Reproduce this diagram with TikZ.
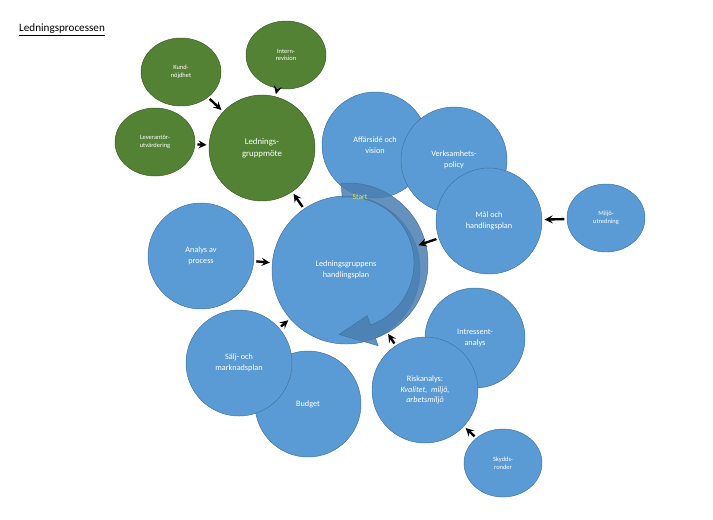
\documentclass[tikz,border=0pt]{standalone}
\usepackage{fontspec}
\setmainfont{Carlito}
\usetikzlibrary{shapes,arrows,positioning,calc}
\definecolor{grn}{HTML}{548235}
\definecolor{grnb}{HTML}{3A5A24}
\definecolor{blu}{HTML}{5B9BD5}
\definecolor{blub}{HTML}{41719C}
\definecolor{bandc}{HTML}{4A7EB0}
\definecolor{startc}{HTML}{E6F03C}

\begin{document}
\begin{tikzpicture}[x=0.03cm,y=0.03cm,
  every node/.style={align=center,text=white,inner sep=0pt},
  gbig/.style={circle,fill=grn,draw=grnb,minimum size=3.18cm},
  gsml/.style={ellipse,fill=grn,draw=grnb,minimum width=2.4cm,minimum height=2.04cm,font=\fontsize{5.5}{6.5}\selectfont},
  bbig/.style={circle,fill=blu,draw=blub,minimum size=3.18cm,font=\fontsize{7}{9}\selectfont},
  bsml/.style={ellipse,fill=blu,draw=blub,minimum width=2.34cm,minimum height=2.04cm,font=\fontsize{5.5}{6.5}\selectfont},
  arr/.style={-stealth,line width=2pt,shorten >=2pt,shorten <=2pt}]
\useasboundingbox (0,0) rectangle (713,-519);
\node[text=black,anchor=west,font=\fontsize{9.5}{11}\selectfont] (title) at (19,-30) {\underline{Ledningsprocessen}};

\node[gsml] (kund) at (181,-72) {Kund-\\nöjdhet};
\node[gsml] (intern) at (286,-55) {Intern-\\revision};
\node[gsml] (lev) at (155,-142) {Leverantör-\\utvärdering};
\node[gbig,font=\fontsize{7.5}{10}\selectfont] (mote) at (262,-148) {Lednings-\\gruppmöte};

\node[bbig] (affar) at (375,-145) {Affärsidé och\\vision};
\node[bbig] (policy) at (454,-160) {Verksamhets-\\policy};
\node[bsml] (miljo) at (606,-218) {Miljö-\\utredning};
\node[bbig] (analys) at (201,-256) {Analys av\\process};
\node[bbig,minimum size=3cm] (intr) at (475,-338) {Intressent-\\analys};
\node[bbig] (budget) at (308,-404) {Budget};
\node[bbig] (salj) at (239,-363) {Sälj- och\\marknadsplan};
\node[bbig] (risk) at (425,-390) {Riskanalys:\\\textit{Kvalitet,\ \ miljö,}\\\textit{arbetsmiljö}};
\node[bsml] (skydd) at (503,-463) {Skydds-\\ronder};
\node[bbig,minimum size=4.44cm] (plan) at (346,-270) {Ledningsgruppens\\handlingsplan};
\node[bbig] (mal) at (489,-221) {Mål och\\handlingsplan};

% start band
\coordinate (c) at (348,-263);
\fill[bandc,fill opacity=0.85,draw=blub] ($(c)+(95:80)$) arc[start angle=95,end angle=-70,radius=80]
  -- ($(c)+(-70:88)$) -- ($(c)+(-97:72)$) -- ($(c)+(-70:56)$) -- ($(c)+(-70:66)$)
  arc[start angle=-70,end angle=95,radius=66] -- cycle;
\node[text=startc,font=\fontsize{6.5}{8}\selectfont] (start) at (360,-197) {Start};

\draw[arr] (kund) -- (mote);
\draw[arr] (intern) -- (mote);
\draw[arr] (lev) -- (mote);
\draw[arr] (plan) -- (mote);
\draw[arr] (mal) -- (plan);
\draw[arr] (miljo) -- (mal);
\draw[arr] (analys) -- (plan);
\draw[arr] (salj) -- (plan);
\draw[arr] (risk) -- (plan);
\draw[arr] (skydd) -- (risk);
\end{tikzpicture}
\end{document}
